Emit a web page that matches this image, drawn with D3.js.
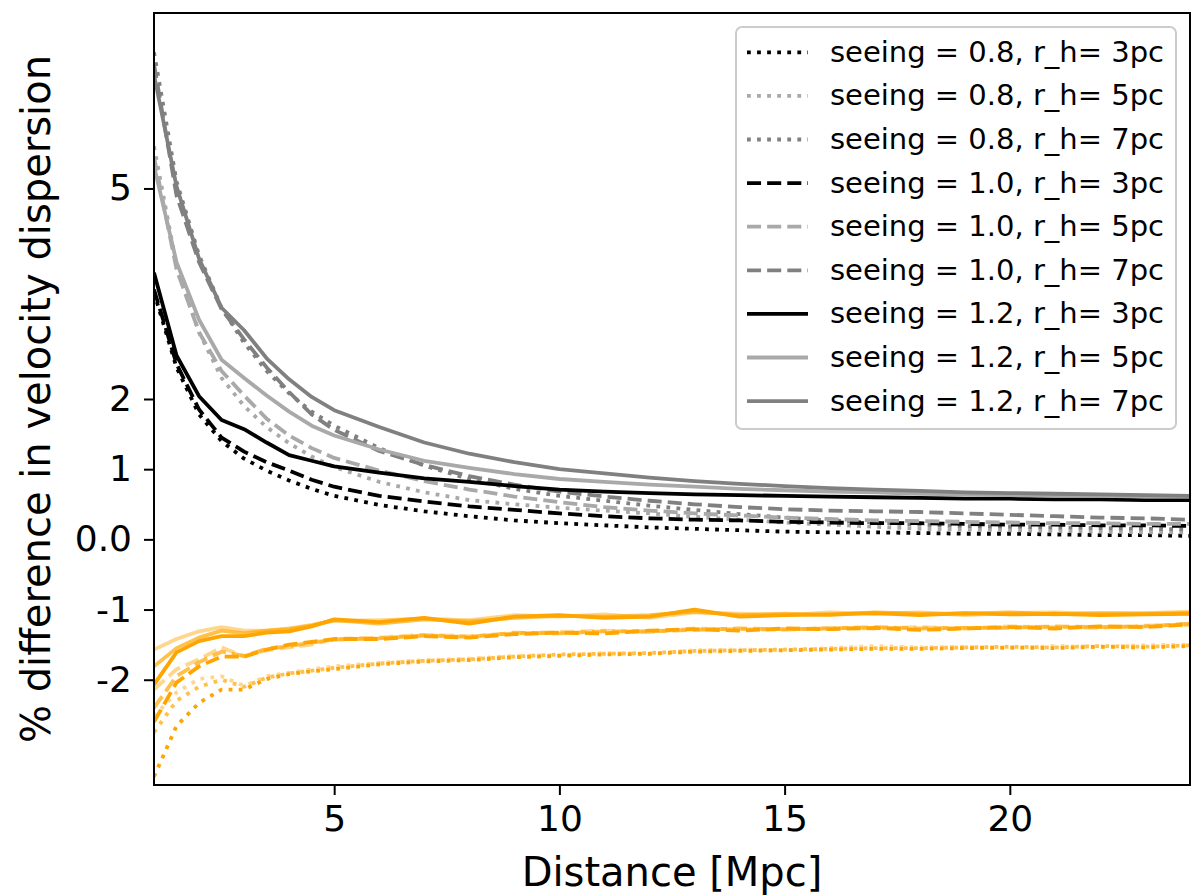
<!DOCTYPE html>
<html>
<head>
<meta charset="utf-8">
<script src="https://cdn.jsdelivr.net/npm/d3@7"></script>
<style>
  body { margin: 0; background: #fff; }
  svg { display: block; }
</style>
</head>
<body>
<div id="chart"></div>
<script>
// Distance grid [Mpc]
const distance = [1, 1.5, 2, 2.5, 3, 3.5, 4, 4.5, 5, 6, 7, 8, 9, 10, 11, 12, 13, 14, 15, 16, 17, 18, 19, 20, 21, 22, 23, 24];

// Axis ticks
const xTickValues = [5, 10, 15, 20];
const yTickValues = [-2, -1, 0, 1, 2, 5];
const yTickLabels = ["-2", "-1", "0.0", "1", "2", "5"];

// Legend entries (grey curves only)
const seeingValues = ["0.8", "0.8", "0.8", "1.0", "1.0", "1.0", "1.2", "1.2", "1.2"];
const radiusValues = [3, 5, 7, 3, 5, 7, 3, 5, 7];

// Grey curves (positive % difference)
const grey08_3 = [3.52, 2.45, 1.78, 1.40, 1.15, 0.98, 0.84, 0.72, 0.62, 0.49, 0.40, 0.33, 0.27, 0.23, 0.20, 0.17, 0.15, 0.13, 0.11, 0.10, 0.10, 0.09, 0.08, 0.08, 0.07, 0.06, 0.06, 0.05];
const grey08_5 = [5.60, 3.90, 2.95, 2.30, 1.90, 1.60, 1.37, 1.18, 1.03, 0.82, 0.67, 0.56, 0.50, 0.45, 0.41, 0.37, 0.32, 0.28, 0.24, 0.21, 0.18, 0.15, 0.14, 0.13, 0.12, 0.11, 0.10, 0.10];
const grey08_7 = [6.94, 5.10, 4.05, 3.30, 2.80, 2.40, 2.08, 1.82, 1.62, 1.30, 1.05, 0.86, 0.72, 0.62, 0.55, 0.48, 0.42, 0.36, 0.31, 0.27, 0.24, 0.21, 0.19, 0.18, 0.17, 0.16, 0.15, 0.14];
const grey10_3 = [3.56, 2.50, 1.85, 1.45, 1.25, 1.10, 0.98, 0.85, 0.75, 0.62, 0.54, 0.47, 0.42, 0.37, 0.33, 0.30, 0.28, 0.27, 0.25, 0.24, 0.23, 0.23, 0.22, 0.21, 0.21, 0.20, 0.20, 0.19];
const grey10_5 = [5.45, 3.85, 2.95, 2.40, 2.05, 1.72, 1.48, 1.30, 1.16, 0.98, 0.83, 0.71, 0.61, 0.53, 0.46, 0.41, 0.37, 0.34, 0.31, 0.29, 0.27, 0.26, 0.25, 0.24, 0.23, 0.23, 0.22, 0.22];
const grey10_7 = [6.77, 4.90, 3.95, 3.28, 2.85, 2.45, 2.10, 1.78, 1.56, 1.26, 1.06, 0.90, 0.78, 0.68, 0.61, 0.55, 0.50, 0.46, 0.43, 0.41, 0.40, 0.39, 0.37, 0.35, 0.33, 0.31, 0.30, 0.28];
const grey12_3 = [3.80, 2.62, 2.04, 1.70, 1.57, 1.38, 1.20, 1.12, 1.04, 0.95, 0.87, 0.82, 0.76, 0.71, 0.68, 0.66, 0.64, 0.63, 0.62, 0.61, 0.60, 0.59, 0.58, 0.58, 0.57, 0.57, 0.56, 0.56];
const grey12_5 = [5.32, 3.95, 3.13, 2.56, 2.30, 2.05, 1.82, 1.62, 1.48, 1.28, 1.12, 1.02, 0.93, 0.86, 0.82, 0.78, 0.75, 0.72, 0.70, 0.68, 0.67, 0.65, 0.64, 0.63, 0.62, 0.62, 0.61, 0.61];
const grey12_7 = [6.62, 5.03, 4.00, 3.30, 2.98, 2.58, 2.28, 2.03, 1.84, 1.60, 1.38, 1.22, 1.10, 1.00, 0.94, 0.88, 0.83, 0.79, 0.76, 0.73, 0.71, 0.69, 0.67, 0.66, 0.65, 0.64, 0.63, 0.62];

// Orange curves (negative % difference)
const orange08_3 = [-3.38, -2.66, -2.33, -2.14, -2.14, -1.99, -1.92, -1.88, -1.85, -1.78, -1.74, -1.72, -1.68, -1.66, -1.64, -1.63, -1.60, -1.59, -1.58, -1.57, -1.56, -1.56, -1.55, -1.54, -1.55, -1.53, -1.54, -1.52];
const orange08_5 = [-2.52, -2.18, -1.99, -1.95, -2.09, -1.95, -1.90, -1.85, -1.81, -1.76, -1.72, -1.70, -1.66, -1.65, -1.62, -1.63, -1.58, -1.57, -1.58, -1.55, -1.52, -1.54, -1.53, -1.55, -1.52, -1.53, -1.51, -1.50];
const orange08_7 = [-2.75, -2.30, -2.10, -2.00, -2.10, -1.97, -1.91, -1.87, -1.83, -1.77, -1.73, -1.71, -1.67, -1.64, -1.63, -1.62, -1.59, -1.58, -1.57, -1.56, -1.55, -1.55, -1.54, -1.53, -1.54, -1.52, -1.53, -1.51];
const orange10_3 = [-2.60, -2.04, -1.81, -1.67, -1.67, -1.57, -1.50, -1.46, -1.42, -1.42, -1.38, -1.40, -1.35, -1.33, -1.34, -1.30, -1.28, -1.30, -1.27, -1.28, -1.26, -1.29, -1.27, -1.25, -1.27, -1.24, -1.25, -1.21];
const orange10_5 = [-2.14, -1.85, -1.71, -1.54, -1.67, -1.58, -1.54, -1.50, -1.42, -1.40, -1.36, -1.38, -1.34, -1.32, -1.30, -1.32, -1.27, -1.28, -1.29, -1.26, -1.27, -1.25, -1.27, -1.24, -1.25, -1.26, -1.23, -1.22];
const orange10_7 = [-2.40, -1.95, -1.75, -1.60, -1.66, -1.56, -1.52, -1.47, -1.43, -1.41, -1.37, -1.39, -1.33, -1.34, -1.31, -1.31, -1.29, -1.27, -1.28, -1.27, -1.25, -1.27, -1.26, -1.26, -1.24, -1.25, -1.24, -1.20];
const orange12_3 = [-2.07, -1.61, -1.45, -1.38, -1.38, -1.33, -1.31, -1.24, -1.14, -1.18, -1.12, -1.20, -1.10, -1.08, -1.12, -1.10, -1.00, -1.10, -1.08, -1.07, -1.05, -1.08, -1.05, -1.07, -1.06, -1.08, -1.07, -1.06];
const orange12_5 = [-1.57, -1.42, -1.31, -1.25, -1.30, -1.30, -1.27, -1.22, -1.16, -1.15, -1.13, -1.15, -1.08, -1.10, -1.07, -1.12, -1.04, -1.06, -1.08, -1.04, -1.06, -1.04, -1.08, -1.05, -1.04, -1.06, -1.05, -1.03];
const orange12_7 = [-1.81, -1.55, -1.40, -1.30, -1.34, -1.30, -1.28, -1.23, -1.15, -1.20, -1.14, -1.17, -1.12, -1.09, -1.10, -1.08, -1.03, -1.08, -1.06, -1.08, -1.04, -1.06, -1.06, -1.04, -1.07, -1.05, -1.06, -1.05];

const greySeries = [grey08_3, grey08_5, grey08_7, grey10_3, grey10_5, grey10_7, grey12_3, grey12_5, grey12_7];
const orangeSeries = [orange08_3, orange08_5, orange08_7, orange10_3, orange10_5, orange10_7, orange12_3, orange12_5, orange12_7];

// Styles
const lw = 3.8;
const dashBySeeing = { "0.8": `${lw} ${lw * 1.65}`, "1.0": `${lw * 3.7} ${lw * 1.6}`, "1.2": null };
const greyByRadius = { 3: "#000000", 5: "#a9a9a9", 7: "#808080" };
const orangeOpacityByRadius = { 3: 1, 5: 0.45, 7: 0.7 };
const font = "'DejaVu Sans', sans-serif";

// Set up dimensions
const width = 1200;
const height = 896;
const margin = { left: 154, right: 10, top: 13, bottom: 111 };
const innerW = width - margin.left - margin.right;
const innerH = height - margin.top - margin.bottom;

const svg = d3.select('#chart')
    .append('svg')
    .attr('width', width)
    .attr('height', height)
    .style('background-color', '#fff');

const x = d3.scaleLinear().domain([1, 24]).range([margin.left, margin.left + innerW]);
const y = d3.scaleLinear().domain([-3.5, 7.5]).range([margin.top + innerH, margin.top]);

svg.append('defs').append('clipPath')
    .attr('id', 'plot-clip')
    .append('rect')
    .attr('x', margin.left)
    .attr('y', margin.top)
    .attr('width', innerW)
    .attr('height', innerH);

const line = d3.line()
    .x((d, i) => x(distance[i]))
    .y(d => y(d));

const plot = svg.append('g').attr('clip-path', 'url(#plot-clip)');

// Grey curves
greySeries.forEach((values, i) => {
    plot.append('path')
        .datum(values)
        .attr('d', line)
        .attr('fill', 'none')
        .attr('stroke', greyByRadius[radiusValues[i]])
        .attr('stroke-width', lw)
        .attr('stroke-dasharray', dashBySeeing[seeingValues[i]])
        .attr('stroke-linejoin', 'round');
});

// Orange curves
orangeSeries.forEach((values, i) => {
    plot.append('path')
        .datum(values)
        .attr('d', line)
        .attr('fill', 'none')
        .attr('stroke', '#ffa500')
        .attr('stroke-opacity', orangeOpacityByRadius[radiusValues[i]])
        .attr('stroke-width', lw)
        .attr('stroke-dasharray', dashBySeeing[seeingValues[i]])
        .attr('stroke-linejoin', 'round');
});

// Axes
const xAxis = svg.append('g')
    .attr('transform', `translate(0,${margin.top + innerH})`)
    .call(d3.axisBottom(x).tickValues(xTickValues).tickSize(10).tickSizeOuter(0).tickPadding(10));

const yAxis = svg.append('g')
    .attr('transform', `translate(${margin.left},0)`)
    .call(d3.axisLeft(y).tickValues(yTickValues).tickSize(10).tickSizeOuter(0).tickPadding(12)
        .tickFormat((d, i) => yTickLabels[i]));

[xAxis, yAxis].forEach(g => {
    g.select('.domain').remove();
    g.selectAll('.tick line').attr('stroke', '#000').attr('stroke-width', 2);
    g.selectAll('.tick text')
        .attr('fill', '#000')
        .style('font-family', font)
        .style('font-size', '36px');
});

// Frame
svg.append('rect')
    .attr('x', margin.left)
    .attr('y', margin.top)
    .attr('width', innerW)
    .attr('height', innerH)
    .attr('fill', 'none')
    .attr('stroke', '#000')
    .attr('stroke-width', 2);

// Axis labels
svg.append('text')
    .attr('x', margin.left + innerW / 2)
    .attr('y', 886)
    .attr('text-anchor', 'middle')
    .style('font-family', font)
    .style('font-size', '40px')
    .text('Distance [Mpc]');

svg.append('text')
    .attr('transform', `translate(50,${margin.top + innerH / 2}) rotate(-90)`)
    .attr('text-anchor', 'middle')
    .style('font-family', font)
    .style('font-size', '40px')
    .text('% difference in velocity dispersion');

// Legend
const legend = svg.append('g');
legend.append('rect')
    .attr('x', 736)
    .attr('y', 27)
    .attr('width', 440)
    .attr('height', 402)
    .attr('rx', 6)
    .attr('fill', '#fff')
    .attr('fill-opacity', 0.8)
    .attr('stroke', '#cccccc')
    .attr('stroke-width', 2);

seeingValues.forEach((s, i) => {
    const rowY = 52.3 + i * 43.6;
    legend.append('line')
        .attr('x1', 747)
        .attr('x2', 808)
        .attr('y1', rowY)
        .attr('y2', rowY)
        .attr('stroke', greyByRadius[radiusValues[i]])
        .attr('stroke-width', lw)
        .attr('stroke-dasharray', dashBySeeing[s]);
    legend.append('text')
        .attr('x', 830)
        .attr('y', rowY + 9.5)
        .style('font-family', font)
        .style('font-size', '29px')
        .text(`seeing = ${s}, r_h= ${radiusValues[i]}pc`);
});
</script>
</body>
</html>
